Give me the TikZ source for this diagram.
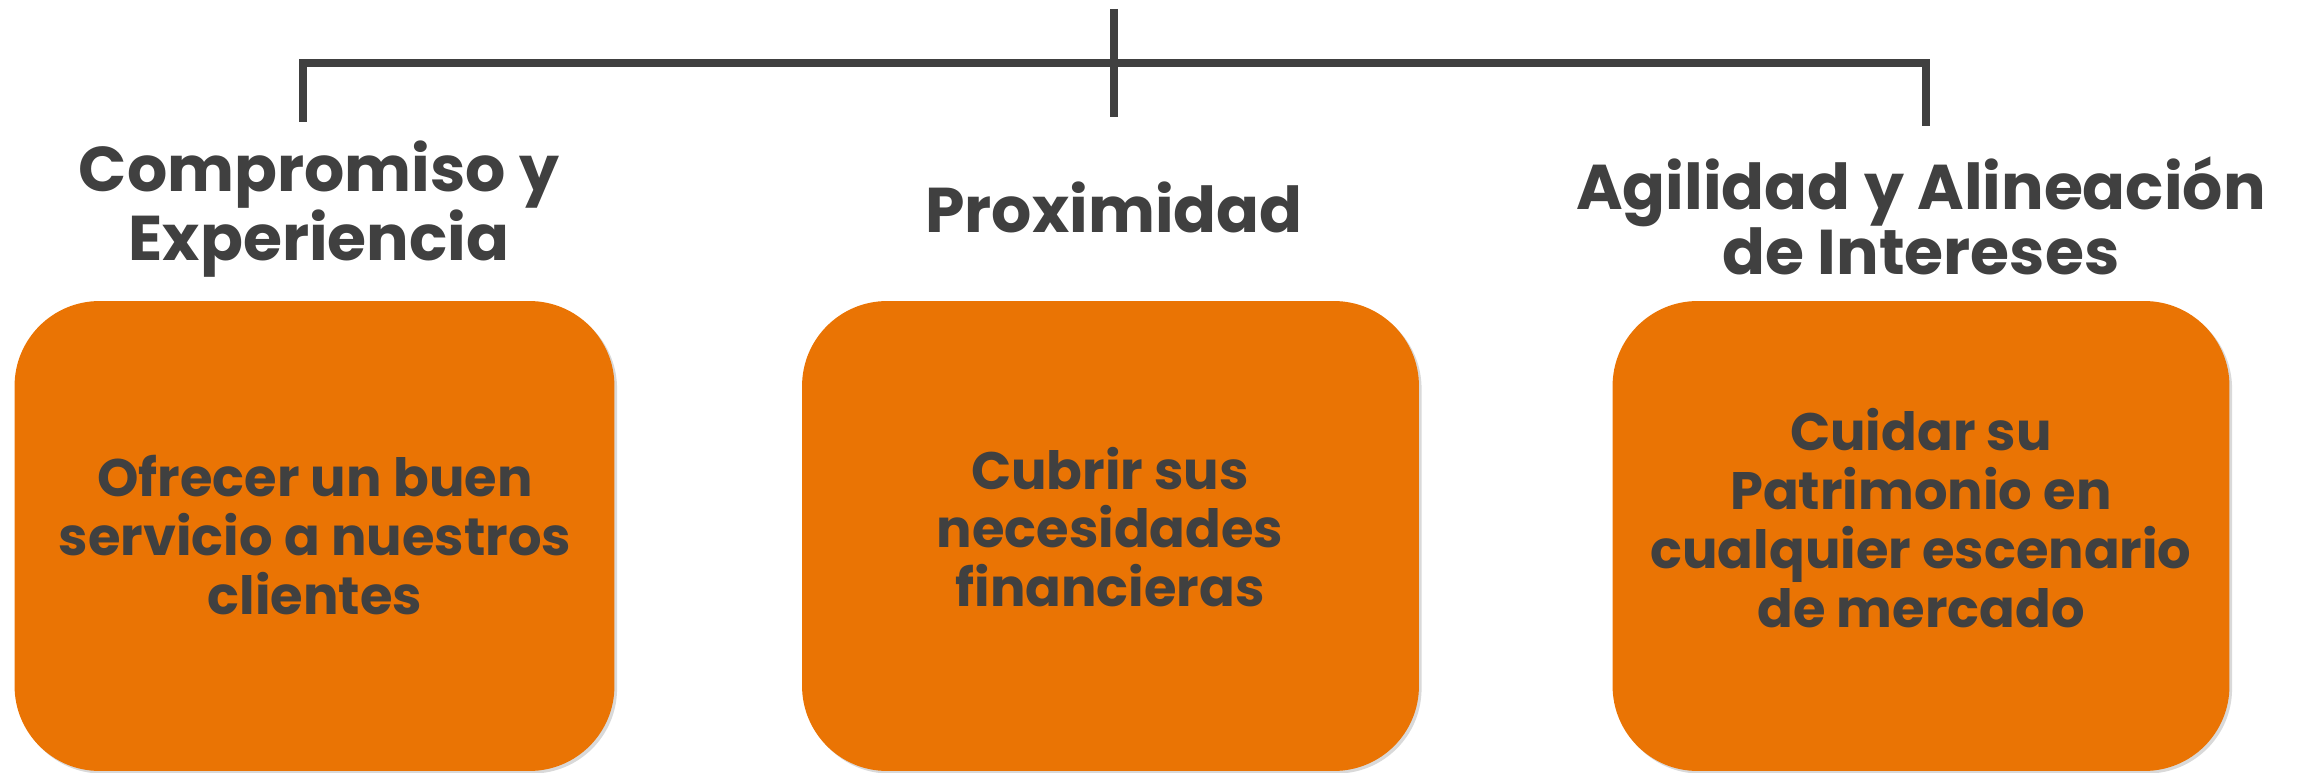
\documentclass[tikz,border=0pt]{standalone}
\usepackage{fontspec}
\setmainfont{Poppins}
\usetikzlibrary{shadows}
\definecolor{cardorange}{HTML}{EA7404}
\definecolor{inkgray}{HTML}{404040}

\tikzset{
  bracket/.style={draw=inkgray, line width=4.5pt, line join=miter},
  heading/.style={text=inkgray, align=center, font=\fontsize{36}{37}\selectfont\bfseries},
  card/.style={fill=cardorange, rounded corners=1.7cm, minimum width=12cm, minimum height=9.4cm,
    drop shadow={shadow xshift=1.5pt, shadow yshift=-1.5pt, opacity=0.3}},
  cardtext/.style={text=inkgray, align=center, font=\fontsize{30}{33.5}\selectfont\bfseries}
}

\begin{document}
\begin{tikzpicture}[x=0.02cm, y=-0.02cm]
  \useasboundingbox (0,0) rectangle (2303,773);
  % bracket on top
  \coordinate (top) at (1114,9);
  \coordinate (hub) at (1114,117);
  \coordinate (legl) at (303,122);
  \coordinate (legr) at (1926,126);
  \draw[bracket] (legl) -- (303,63) -- (1926,63) -- (legr);
  \draw[bracket] (top) -- (hub);
  % headings
  \node[heading] (h1) at (319,209) {Compromiso y\\Experiencia};
  \node[heading] (h2) at (1114,207) {Proximidad};
  \node[heading] (h3) at (1921,216) {Agilidad y Alineación\\de Intereses};
  % orange cards
  \node[card] (c1) at (314.5,536) {};
  \node[card, minimum width=12.34cm] (c2) at (1110.5,536) {};
  \node[card, minimum width=12.34cm] (c3) at (1921,536) {};
  % card texts
  \node[cardtext] (t1) at (315,535) {Ofrecer un buen\\servicio a nuestros\\clientes};
  \node[cardtext] (t2) at (1110,527) {Cubrir sus\\necesidades\\financieras};
  \node[cardtext] (t3) at (1921,518) {Cuidar su\\Patrimonio en\\cualquier escenario\\de mercado};
\end{tikzpicture}
\end{document}
